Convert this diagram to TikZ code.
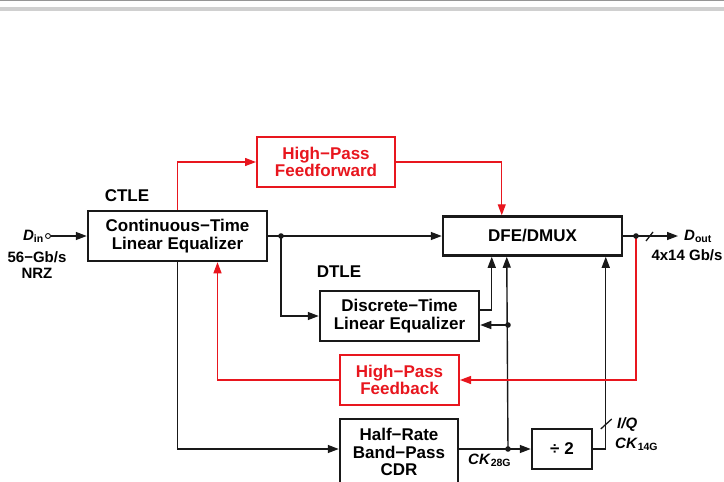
\documentclass[tikz,border=0pt]{standalone}
\usepackage{fontspec}
\setmainfont{Liberation Sans}
\usepackage{tikz}
\usetikzlibrary{
  arrows.meta,
  positioning,
  calc
}
\definecolor{cdrblack}{RGB}{25,25,25}
\definecolor{cdrred}{RGB}{232,22,30}
\definecolor{cdrgray}{RGB}{150,150,150}
\newcommand{\cdrBoxFont}{\bfseries\fontsize{17}{17.5}\selectfont}
\newcommand{\cdrTagFont}{\bfseries\fontsize{15}{16}\selectfont}
\tikzset{
  cdrBox/.style={
    rectangle,
    draw=cdrblack,
    fill=white,
    line width=2.5pt,
    inner sep=0pt,
    align=center,
    font=\cdrBoxFont
  },
  cdrRedBox/.style={
    cdrBox,
    draw=cdrred,
    text=cdrred,
    line width=2pt
  },
  cdrArrow/.style={
    -{Triangle[length=11pt,width=8pt]},
    line width=1.4pt,
    draw=cdrblack
  },
  cdrRedArrow/.style={
    cdrArrow,
    line width=1.2pt,
    draw=cdrred
  },
  cdrLine/.style={
    line width=1.3pt,
    draw=cdrblack
  },
  cdrTitle/.style={
    font=\cdrBoxFont,
    inner sep=0pt
  },
  cdrTag/.style={
    font=\cdrTagFont,
    inner sep=0pt,
    align=center
  },
  cdrPin/.style={
    circle,
    draw=cdrblack,
    line width=0.9pt,
    fill=white,
    minimum size=5pt,
    inner sep=0pt
  }
}

\begin{document}
\begin{tikzpicture}[x=1pt, y=-1pt]
  \clip (0,0) rectangle (724,482);
  \fill[white] (0,0) rectangle (724,482);
  % page rule at the top
  \draw[cdrgray, line width=1.2pt] (0,0.6) -- (724,0.6);
  \fill[cdrgray!45] (0,7) rectangle (724,11);

  % blocks
  \node[cdrBox, minimum width=179pt, minimum height=50pt]
    (ctle) at (177.5,236) {Continuous−Time\\Linear Equalizer};
  \node[cdrBox, minimum width=179pt, minimum height=39pt]
    (dfe) at (532.5,236) {DFE/DMUX};
  \node[cdrBox, minimum width=159pt, minimum height=50pt]
    (dtle) at (399.5,316) {Discrete−Time\\Linear Equalizer};
  \node[cdrRedBox, minimum width=138pt, minimum height=50pt]
    (hpff) at (326,162) {High−Pass\\Feedforward};
  \node[cdrRedBox, minimum width=119pt, minimum height=50pt]
    (hpfb) at (399.5,380) {High−Pass\\Feedback};
  \node[cdrBox, minimum width=118pt, minimum height=66pt]
    (cdr) at (399,452) {Half−Rate\\Band−Pass\\CDR};
  \node[cdrBox, minimum width=60pt, minimum height=40pt]
    (div) at (562,449) {÷ 2};

  \node[cdrTitle] (ctleTag) at (127,196) {CTLE};
  \node[cdrTitle] (dtleTag) at (339,272) {DTLE};

  % ports and junctions
  \node[cdrPin] (din) at (48,236) {};
  \coordinate (j1) at (281,236);
  \coordinate (jFb) at (636,236);
  \coordinate (jCk) at (508,449);
  \coordinate (jDt) at (508,325);
  \coordinate (dout) at (678,236);
  \coordinate (dfeA) at ($(dfe.south west)+(50,0)$);
  \coordinate (dfeB) at ($(dfe.south west)+(65,0)$);
  \coordinate (dfeC) at ($(dfe.south west)+(164,0)$);
  \coordinate (ffIn) at ($(dfe.north west)+(60,0)$);
  \coordinate (fbIn) at ($(ctle.south)+(40,0)$);

  % data path
  \draw[cdrArrow] (din) -- (ctle.west);
  \draw[cdrArrow] (ctle.east) -- (j1) -- (dfe.west);
  \draw[cdrArrow] (j1) |- (dtle.west);
  \draw[cdrArrow] ($(dtle.east)+(0,-6)$) -| (dfeA);
  \draw[cdrArrow] (jDt) -- (dtle.east |- jDt);
  \draw[cdrArrow] (dfe.east) -- (jFb) -- (dout);
  \draw[cdrLine] ($(jFb)+(10,5)$) -- ++(7,-9);

  % clock path
  \draw[cdrArrow] (ctle.south) |- (cdr.west |- div.west);
  \draw[cdrArrow] (cdr.east |- div.west) -- (jCk) -- (div.west);
  \draw[cdrArrow] (jCk) -- (dfeB);
  \draw[cdrArrow] (div.east) -| (dfeC);
  \draw[cdrLine] ($(div.east -| dfeC)+(-5,-20)$) -- ++(11,-10);

  % high-pass paths
  \draw[cdrRedArrow] (ctle.north) |- (hpff.west);
  \draw[cdrRedArrow] (hpff.east) -| (ffIn);
  \draw[cdrRedArrow] (jFb) |- (hpfb.east);
  \draw[cdrRedArrow] (hpfb.west) -| (fbIn);

  \foreach \j in {j1,jFb,jCk,jDt}
    \fill[cdrblack] (\j) circle (2.8);

  % labels
  \node[cdrTag, anchor=base east] (dinTag) at (44,240)
    {\textit{D}\textsubscript{in}};
  \node[cdrTag] (rateIn) at (37,265) {56−Gb/s\\NRZ};
  \node[cdrTag, anchor=base west] (doutTag) at (684,240)
    {\textit{D}\textsubscript{out}};
  \node[cdrTag] (rateOut) at (687,255) {4x14 Gb/s};
  \node[cdrTag, anchor=base west] (ck28) at (468,464)
    {\textit{CK}\textsubscript{28G}};
  \node[cdrTag, anchor=base west] (iq) at (617,428) {\textit{I/Q}};
  \node[cdrTag, anchor=base west] (ck14) at (615,448)
    {\textit{CK}\textsubscript{14G}};
\end{tikzpicture}
\end{document}
